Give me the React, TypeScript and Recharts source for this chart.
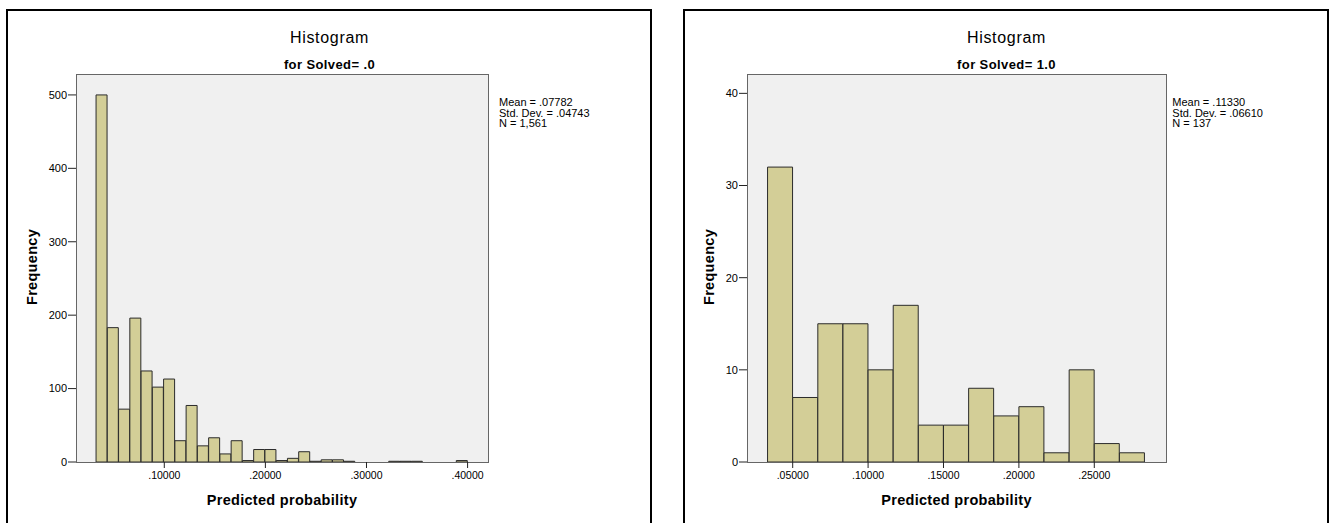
import { Bar, ComposedChart, XAxis, YAxis } from 'recharts';

// Solved = .0
const solved0Counts = [500, 183, 72, 196, 124, 102, 113, 29, 77, 22, 33, 11, 29, 2, 17, 17, 2, 5, 14, 1, 3, 3, 1, 0, 0, 0, 1, 1, 1, 0, 0, 0, 2];
const solved0BinStart = 0.0325;
const solved0BinWidth = 0.011136;
const solved0XTicks = [0.1, 0.2, 0.3, 0.4];
const solved0YTicks = [0, 100, 200, 300, 400, 500];
const solved0Stats = ['Mean = .07782', 'Std. Dev. = .04743', 'N = 1,561'];

// Solved = 1.0
const solved1Counts = [32, 7, 15, 15, 10, 17, 4, 4, 8, 5, 6, 1, 10, 2, 1];
const solved1BinStart = 2 / 60;
const solved1BinWidth = 1 / 60;
const solved1XTicks = [0.05, 0.1, 0.15, 0.2, 0.25];
const solved1YTicks = [0, 10, 20, 30, 40];
const solved1Stats = ['Mean = .11330', 'Std. Dev. = .06610', 'N = 137'];

const FONT = '"Liberation Sans", Arial, sans-serif';
const W = 667;
const H = 523;
const PLOT_TOP = 74;
const PLOT_BOTTOM = 462;

const fmtTick = (v: number) => '.' + v.toFixed(5).slice(2);

type PanelProps = {
  originX: number;
  counts: number[];
  binStart: number;
  binWidth: number;
  xDomain: [number, number];
  xTicks: number[];
  yDomain: [number, number];
  yTicks: number[];
  plotLeft: number;
  plotRight: number;
  subtitle: string;
  stats: string[];
  statsX: number;
};

function Panel(p: PanelProps) {
  const data = p.counts.map((count, i) => ({
    mid: p.binStart + (i + 0.5) * p.binWidth,
    count,
  }));
  const plotCenter = (p.plotLeft + p.plotRight) / 2;

  return (
    <div style={{ position: 'absolute', left: p.originX, top: 0, width: W, height: H }}>
      <div
        style={{
          position: 'absolute',
          left: 6,
          top: 9,
          width: 646,
          height: 600,
          boxSizing: 'border-box',
          border: '2px solid #000',
          borderBottom: 'none',
        }}
      />
      <div
        style={{
          position: 'absolute',
          left: p.plotLeft,
          top: PLOT_TOP,
          width: p.plotRight - p.plotLeft + 1,
          height: PLOT_BOTTOM - PLOT_TOP + 1,
          boxSizing: 'border-box',
          background: '#f0f0f0',
          border: '1px solid #666',
        }}
      />
      <div style={{ position: 'absolute', left: 0, top: 0 }}>
        <ComposedChart
          width={W}
          height={H}
          data={data}
          barCategoryGap={0}
          barGap={0}
          margin={{ top: PLOT_TOP, bottom: H - PLOT_BOTTOM - 30, left: p.plotLeft - 60, right: W - p.plotRight }}
        >
          <XAxis
            type="number"
            dataKey="mid"
            domain={p.xDomain}
            allowDataOverflow
            ticks={p.xTicks}
            tickFormatter={fmtTick}
            height={30}
            axisLine={false}
            tickSize={6}
            tickMargin={4}
            tickLine={{ stroke: '#222' }}
            tick={{ fill: '#000', fontSize: 10.5, fontFamily: FONT }}
            interval={0}
          />
          <YAxis
            type="number"
            domain={p.yDomain}
            allowDataOverflow
            ticks={p.yTicks}
            width={60}
            axisLine={false}
            tickSize={8}
            tickMargin={1}
            tickLine={{ stroke: '#222' }}
            tick={{ fill: '#000', fontSize: 11, fontFamily: FONT }}
            interval={0}
          />
          <Bar dataKey="count" fill="#d3ce97" stroke="#2b2b2b" strokeWidth={1} isAnimationActive={false} />
        </ComposedChart>
      </div>
      <svg
        width={W}
        height={H}
        style={{ position: 'absolute', left: 0, top: 0, pointerEvents: 'none' }}
        fontFamily={FONT}
      >
        <text x={329.5} y={42.5} textAnchor="middle" fontSize={16} letterSpacing={0.7} fill="#000">
          Histogram
        </text>
        <text x={329.5} y={69} textAnchor="middle" fontSize={13} fontWeight="bold" letterSpacing={0.4} fill="#000">
          {p.subtitle}
        </text>
        <text
          x={37}
          y={267}
          transform="rotate(-90 37 267)"
          textAnchor="middle"
          fontSize={14.5}
          fontWeight="bold"
          letterSpacing={0.3}
          fill="#000"
        >
          Frequency
        </text>
        <text x={plotCenter} y={505} textAnchor="middle" fontSize={14.5} fontWeight="bold" letterSpacing={0.3} fill="#000">
          Predicted probability
        </text>
        {p.stats.map((s, i) => (
          <text key={s} x={p.statsX} y={106 + i * 10.5} fontSize={11} fill="#000">
            {s}
          </text>
        ))}
      </svg>
    </div>
  );
}

export default function App() {
  return (
    <div style={{ position: 'absolute', left: 0, top: 0, width: 1334, height: 523, overflow: 'hidden', background: '#fff' }}>
      <Panel
        originX={0}
        counts={solved0Counts}
        binStart={solved0BinStart}
        binWidth={solved0BinWidth}
        xDomain={[0.01266, 0.4202]}
        xTicks={solved0XTicks}
        yDomain={[0, 528.5]}
        yTicks={solved0YTicks}
        plotLeft={76}
        plotRight={488}
        subtitle="for Solved= .0"
        stats={solved0Stats}
        statsX={499}
      />
      <Panel
        originX={677}
        counts={solved1Counts}
        binStart={solved1BinStart}
        binWidth={solved1BinWidth}
        xDomain={[0.0197, 0.29755]}
        xTicks={solved1XTicks}
        yDomain={[0, 42.1]}
        yTicks={solved1YTicks}
        plotLeft={70}
        plotRight={489}
        subtitle="for Solved= 1.0"
        stats={solved1Stats}
        statsX={495.3}
      />
    </div>
  );
}
